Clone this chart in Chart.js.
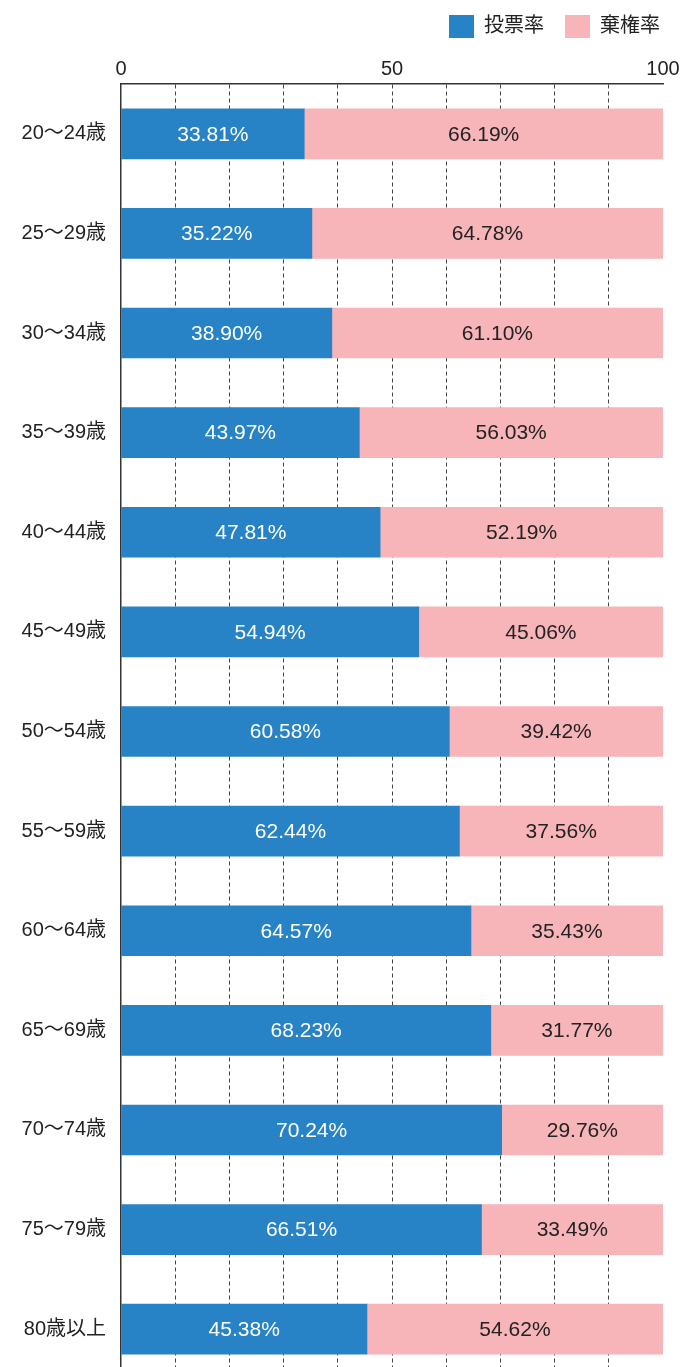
<!DOCTYPE html>
<html>
<head>
<meta charset="utf-8">
<script src="https://cdn.jsdelivr.net/npm/chart.js@4"></script>
<style>
html,body{margin:0;padding:0;background:#fff;overflow:hidden;}
canvas{display:block;}
</style>
</head>
<body>
<canvas id="c" width="681" height="1406"></canvas>
<script>
const categories = ['20〜24歳','25〜29歳','30〜34歳','35〜39歳','40〜44歳','45〜49歳','50〜54歳','55〜59歳','60〜64歳','65〜69歳','70〜74歳','75〜79歳','80歳以上'];
const seriesNames = ['投票率','棄権率'];
const votedValues = [33.81,35.22,38.90,43.97,47.81,54.94,60.58,62.44,64.57,68.23,70.24,66.51,45.38];
const abstainedValues = [66.19,64.78,61.10,56.03,52.19,45.06,39.42,37.56,35.43,31.77,29.76,33.49,54.62];
const labeledTicks = [0,50,100];

const FONT = '"Liberation Sans", "Noto Sans CJK JP", sans-serif';
const BLUE = '#2783c6';
const PINK = '#f7b5ba';
const TOP = 84;
const PAD_TOP = -6;

const valueLabels = {
  id: 'valueLabels',
  afterDatasetsDraw(chart) {
    const ctx = chart.ctx;
    ctx.save();
    ctx.font = '21px ' + FONT;
    ctx.textAlign = 'center';
    ctx.textBaseline = 'middle';
    chart.data.datasets.forEach((ds, di) => {
      const meta = chart.getDatasetMeta(di);
      meta.data.forEach((bar, i) => {
        const x = (bar.x + bar.base) / 2;
        ctx.fillStyle = di === 0 ? '#ffffff' : '#222222';
        ctx.fillText(ds.data[i].toFixed(2) + '%', x, bar.y + 1);
      });
    });
    ctx.restore();
  }
};

new Chart(document.getElementById('c'), {
  type: 'bar',
  data: {
    labels: categories,
    datasets: [
      { label: seriesNames[0], data: votedValues, backgroundColor: BLUE, borderWidth: 0, barThickness: 50 },
      { label: seriesNames[1], data: abstainedValues, backgroundColor: PINK, borderWidth: 0, barThickness: 50 }
    ]
  },
  options: {
    indexAxis: 'y',
    responsive: false,
    animation: false,
    layout: { padding: { left: 0, right: 0, top: PAD_TOP, bottom: 0 } },
    plugins: {
      legend: {
        position: 'top',
        align: 'end',
        labels: {
          boxWidth: 25, boxHeight: 23, padding: 21,
          color: '#222', font: { family: FONT, size: 20 }
        }
      },
      tooltip: { enabled: false }
    },
    scales: {
      x: {
        position: 'top',
        stacked: true,
        min: 0, max: 100,
        ticks: {
          stepSize: 10,
          autoSkip: false,
          maxRotation: 0,
          padding: 3,
          color: '#222',
          font: { family: FONT, size: 20 },
          callback: (v) => labeledTicks.includes(v) ? String(v) : ''
        },
        grid: {
          drawTicks: false,
          color: (c) => (c.tick && (c.tick.value === 0 || c.tick.value === 100)) ? 'rgba(0,0,0,0)' : '#444',
          lineWidth: 1
        },
        border: { display: true, color: '#333', width: 1.5, dash: [4,3] },
        afterFit: (axis) => {
          const lg = axis.chart.legend;
          const lh = (lg && lg.height) ? lg.height : 44;
          axis.height = Math.max(10, TOP - PAD_TOP - lh);
          axis.paddingRight = 18;
        }
      },
      y: {
        stacked: true,
        ticks: { color: '#222', font: { family: FONT, size: 20 }, padding: 15 },
        grid: { display: false, drawTicks: false },
        border: { display: true, color: '#333', width: 1.5 },
        afterFit: (axis) => { axis.width = 121; }
      }
    }
  },
  plugins: [valueLabels]
});
</script>
</body>
</html>
